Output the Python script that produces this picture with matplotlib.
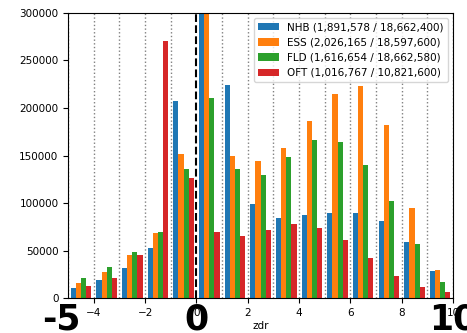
import numpy as np
import matplotlib
matplotlib.use("Agg")
import matplotlib.pyplot as plt

# histogram of zdr, one bin per unit from -5 to 10
bin_left = list(range(-5, 10))

nhb = [10500, 18900, 31200, 52200, 206900, 690000, 224400, 99100,
       84400, 87900, 90000, 89300, 81600, 58500, 28000]
ess = [15400, 27000, 44800, 68300, 151200, 299000, 149800, 143900,
       157500, 186200, 214600, 223300, 182400, 95200, 29100]
fld = [20700, 32600, 48000, 70000, 135900, 211000, 135900, 129900,
       148800, 166600, 164500, 140400, 102600, 57100, 17200]
oft = [13000, 20700, 45500, 270000, 126000, 69300, 64800, 72100,
       78100, 73900, 61600, 42400, 23500, 11200, 6000]

labels = ["NHB (1,891,578 / 18,662,400)",
          "ESS (2,026,165 / 18,597,600)",
          "FLD (1,616,654 / 18,662,580)",
          "OFT (1,016,767 / 10,821,600)"]
colors = ["tab:blue", "tab:orange", "tab:green", "tab:red"]

big_ticks = [-5, 0, 10]

fig = plt.figure(figsize=(4.67, 3.33), dpi=100)
ax = fig.add_axes([0.146, 0.105, 0.824, 0.856])

# vertical guide lines
for x in range(-5, 11):
    if x == 0:
        ax.axvline(x, color="black", linestyle="--", linewidth=1.5, zorder=1)
    else:
        ax.axvline(x, color="gray", linestyle=":", linewidth=1.0, zorder=1)

centers = np.array(bin_left) + 0.5
width = 0.2
for i, (vals, lab, col) in enumerate(zip([nhb, ess, fld, oft], labels, colors)):
    ax.bar(centers + (i - 1.5) * width, vals, width=width, color=col,
           label=lab, zorder=2)

ax.set_xlim(-5, 10)
ax.set_ylim(0, 300000)
ax.set_xticks([-4, -2, 0, 2, 4, 6, 8, 10])
ax.set_yticks(range(0, 300001, 50000))
ax.tick_params(labelsize=7.5)
ax.set_xlabel("zdr", fontsize=7.5, labelpad=2)

ax.legend(loc="upper right", fontsize=7.5, handlelength=2.0)

# large labels for the range limits and zero
for x in big_ticks:
    dx = -5 if x < 0 else 0  # the minus sign pulls the label left a bit
    ax.annotate(str(x), (x, -0.015), xycoords=ax.get_xaxis_transform(),
                xytext=(dx, 0), textcoords="offset points",
                ha="center", va="top", fontsize=25, fontweight="bold",
                annotation_clip=False, zorder=5)

fig.savefig("out.png", dpi=100)
